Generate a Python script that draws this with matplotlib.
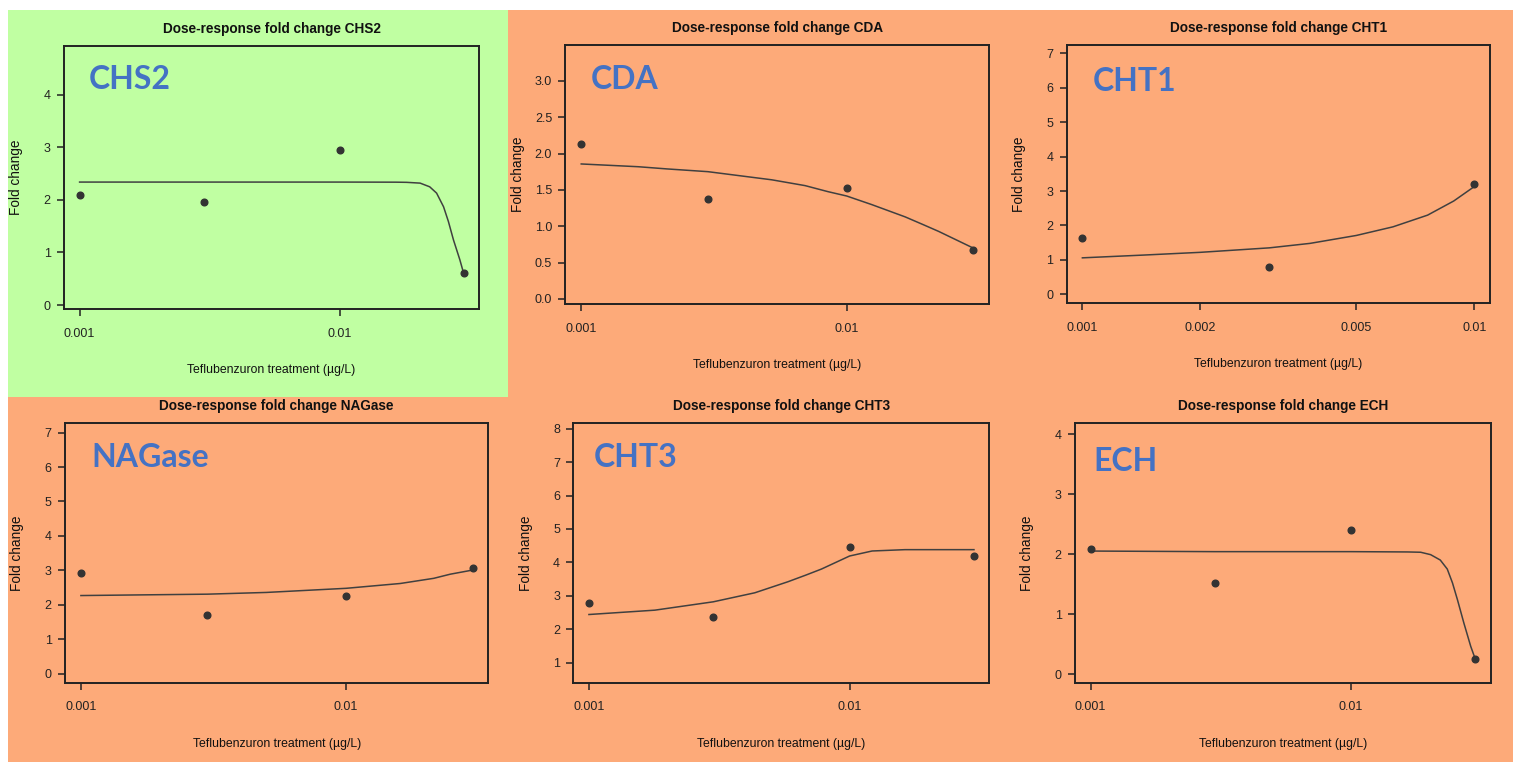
import matplotlib
matplotlib.use("Agg")
import matplotlib.pyplot as plt
from matplotlib.patches import Rectangle
from matplotlib.ticker import FixedLocator, FixedFormatter, NullLocator

# measured doses (µg/L) and fold changes
doses4 = [0.001, 0.003, 0.01, 0.03]
doses3 = [0.001, 0.003, 0.01]

chs2_pts = [2.10, 1.96, 2.95, 0.60]
cda_pts = [2.13, 1.37, 1.53, 0.67]
cht1_pts = [1.63, 0.78, 3.21]
nag_pts = [2.93, 1.71, 2.25, 3.06]
cht3_pts = [2.79, 2.36, 4.45, 4.20]
ech_pts = [2.09, 1.52, 2.40, 0.245]

# fitted curves
chs2_cx = [0.001, 0.003, 0.01, 0.0165, 0.0181, 0.0204, 0.0222, 0.0236, 0.0251, 0.0262, 0.0274, 0.029, 0.03]
chs2_cy = [2.34, 2.34, 2.34, 2.338, 2.335, 2.32, 2.25, 2.13, 1.87, 1.59, 1.24, 0.86, 0.60]

cda_cx = [0.001, 0.00164, 0.0021, 0.003, 0.00522, 0.00697, 0.0085, 0.01, 0.0124, 0.0166, 0.0195, 0.0222, 0.03]
cda_cy = [1.858, 1.82, 1.79, 1.752, 1.64, 1.56, 1.477, 1.417, 1.30, 1.13, 1.02, 0.93, 0.70]

cht1_cx = [0.001, 0.00143, 0.002, 0.003, 0.00381, 0.005, 0.0062, 0.0076, 0.00886, 0.01]
cht1_cy = [1.06, 1.14, 1.22, 1.35, 1.48, 1.71, 1.96, 2.30, 2.71, 3.13]

nag_cx = [0.001, 0.003, 0.005, 0.01, 0.016, 0.0214, 0.0247, 0.03]
nag_cy = [2.27, 2.31, 2.36, 2.48, 2.62, 2.77, 2.89, 3.01]

cht3_cx = [0.001, 0.00179, 0.003, 0.00433, 0.0058, 0.0068, 0.0078, 0.01, 0.0122, 0.0163, 0.03]
cht3_cy = [2.44, 2.57, 2.82, 3.09, 3.42, 3.62, 3.80, 4.19, 4.34, 4.38, 4.38]

ech_cx = [0.001, 0.003, 0.01, 0.0165, 0.0185, 0.0202, 0.022, 0.0234, 0.0245, 0.0256, 0.0271, 0.0288, 0.030]
ech_cy = [2.05, 2.04, 2.04, 2.035, 2.03, 1.99, 1.90, 1.75, 1.52, 1.24, 0.85, 0.46, 0.245]

genes = ["CHS2", "CDA", "CHT1", "NAGase", "CHT3", "ECH"]
yticks_all = [[0, 1, 2, 3, 4],
              [0.0, 0.5, 1.0, 1.5, 2.0, 2.5, 3.0],
              [0, 1, 2, 3, 4, 5, 6, 7],
              [0, 1, 2, 3, 4, 5, 6, 7],
              [1, 2, 3, 4, 5, 6, 7, 8],
              [0, 1, 2, 3, 4]]
xticks_main = [0.001, 0.01]
xticks_cht1 = [0.001, 0.002, 0.005, 0.01]

W, H = 1513, 762
GREEN = "#C0FFA2"
ORANGE = "#FDAA79"
BLUE = "#4472C4"
INK = "#222222"

fig = plt.figure(figsize=(W / 100, H / 100), dpi=100)
fig.patch.set_facecolor("white")
fig.patches.append(Rectangle((8 / W, 0), 1 - 8 / W, 1 - 10 / H, transform=fig.transFigure,
                             facecolor=ORANGE, edgecolor="none", zorder=-2))
fig.patches.append(Rectangle((8 / W, 1 - 396.7 / H), (508.3 - 8) / W, (396.7 - 10) / H,
                             transform=fig.transFigure, facecolor=GREEN, edgecolor="none", zorder=-1))

# axes boxes in pixels: left, right, top, bottom
boxes = [(64, 479, 46, 309), (565.3, 989, 45, 304), (1066.7, 1490, 45, 303.3),
         (65, 488.3, 423.3, 682.7), (573.3, 989.3, 423.3, 682.7), (1075, 1490.7, 423.3, 682.7)]
ylims = [(-0.076, 4.93), (-0.069, 3.495), (-0.26, 7.24), (-0.26, 7.27), (0.40, 8.16), (-0.145, 4.18)]
label_pos = [(89, 79.5), (591, 79.5), (1092.7, 81.8), (91.7, 457.5), (593.3, 457.5), (1093.3, 461.2)]

points = [(doses4, chs2_pts), (doses4, cda_pts), (doses3, cht1_pts),
          (doses4, nag_pts), (doses4, cht3_pts), (doses4, ech_pts)]
curves = [(chs2_cx, chs2_cy), (cda_cx, cda_cy), (cht1_cx, cht1_cy),
          (nag_cx, nag_cy), (cht3_cx, cht3_cy), (ech_cx, ech_cy)]

plt.rcParams["font.family"] = ["Liberation Sans", "DejaVu Sans"]

for i, gene in enumerate(genes):
    l, r, t, b = boxes[i]
    ax = fig.add_axes([l / W, 1 - b / H, (r - l) / W, (b - t) / H])
    ax.set_facecolor("none")
    ax.set_xscale("log")
    if gene == "CHT1":
        ax.set_xlim(10 ** -3.04, 10 ** -1.96)
        xt = xticks_cht1
    else:
        ax.set_xlim(10 ** -3.06, 10 ** -1.464)
        xt = xticks_main
    ax.set_ylim(*ylims[i])

    cx, cy = curves[i]
    ax.plot(cx, cy, color="#404040", lw=1.1, zorder=2, solid_joinstyle="round")
    px, py = points[i]
    ax.plot(px, py, "o", color="#333333", ms=4.8, zorder=3)

    ax.xaxis.set_major_locator(FixedLocator(xt))
    ax.xaxis.set_major_formatter(FixedFormatter([f"{v:g}" for v in xt]))
    ax.xaxis.set_minor_locator(NullLocator())
    yt = yticks_all[i]
    ax.set_yticks(yt)
    if gene == "CDA":
        ax.set_yticklabels([f"{v:.1f}" for v in yt])
    else:
        ax.set_yticklabels([f"{v:g}" for v in yt])

    for s in ax.spines.values():
        s.set_linewidth(1.4)
        s.set_color(INK)
    ax.tick_params(axis="both", direction="out", length=5, width=1.1, colors=INK, labelsize=9)
    ax.tick_params(axis="x", pad=8.5)
    ax.tick_params(axis="y", pad=4.5)

    ax.annotate(f"Dose-response fold change {gene}", xy=(0.5, 1), xycoords="axes fraction",
                xytext=(0, 12.5), textcoords="offset points", ha="center", va="center",
                fontsize=9.8, fontweight="bold", color="#111111")
    ax.annotate("Teflubenzuron treatment (µg/L)", xy=(0.5, 0), xycoords="axes fraction",
                xytext=(0, -44), textcoords="offset points", ha="center", va="center",
                fontsize=8.8, color="#111111")
    ax.annotate("Fold change", xy=(0, 0.5), xycoords="axes fraction",
                xytext=(-34.2, 0), textcoords="offset points", ha="center", va="center",
                rotation=90, fontsize=9.8, color="#111111")

    lx, ly = label_pos[i]
    fig.text(lx / W, 1 - ly / H, gene, ha="left", va="center", fontsize=23,
             fontweight="bold", color=BLUE, family=["Lato", "DejaVu Sans"])

fig.savefig("out.png", dpi=100)
